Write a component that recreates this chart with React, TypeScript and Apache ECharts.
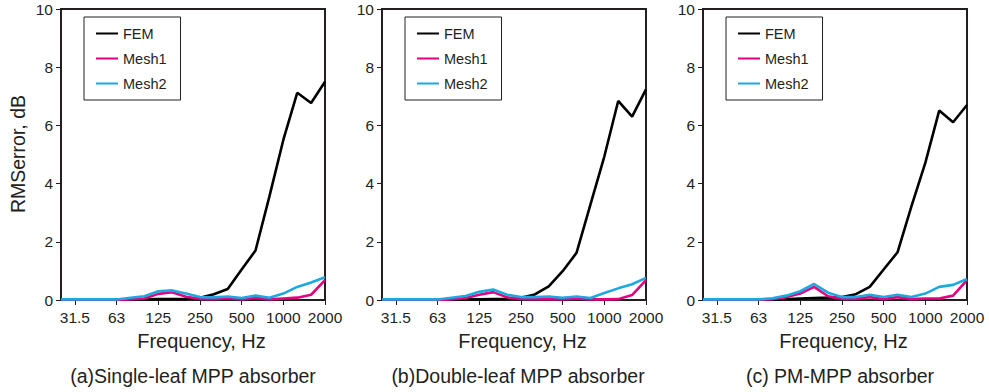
import React, { useEffect, useRef } from "react";
import * as echarts from "echarts";

const freqs = ["25", "31.5", "40", "50", "63", "80", "100", "125", "160", "200", "250", "315", "400", "500", "630", "800", "1000", "1250", "1600", "2000"];
const tickLabels = ["31.5", "63", "125", "250", "500", "1000", "2000"];
const yTicks = [0, 2, 4, 6, 8, 10];

const femA = [0.02, 0.02, 0.02, 0.02, 0.02, 0.02, 0.02, 0.03, 0.03, 0.04, 0.08, 0.2, 0.38, 1.05, 1.7, 3.56, 5.5, 7.12, 6.77, 7.5];
const mesh1A = [0, 0, 0, 0, 0, 0.02, 0.05, 0.21, 0.27, 0.11, 0.04, 0.03, 0.06, 0.02, 0.08, 0.02, 0.05, 0.08, 0.18, 0.68];
const mesh2A = [0.02, 0.02, 0.02, 0.02, 0.02, 0.08, 0.13, 0.3, 0.33, 0.22, 0.1, 0.09, 0.12, 0.07, 0.15, 0.08, 0.22, 0.45, 0.6, 0.78];

const femB = [0.01, 0.01, 0.01, 0.01, 0.01, 0.01, 0.02, 0.02, 0.03, 0.04, 0.08, 0.19, 0.47, 0.99, 1.62, 3.28, 4.93, 6.84, 6.3, 7.24];
const mesh1B = [0, 0, 0, 0, 0, 0.02, 0.07, 0.18, 0.27, 0.09, 0.04, 0.03, 0.04, 0.02, 0.05, 0.02, 0.02, 0.03, 0.17, 0.68];
const mesh2B = [0.02, 0.02, 0.02, 0.02, 0.02, 0.08, 0.14, 0.28, 0.36, 0.18, 0.1, 0.1, 0.12, 0.08, 0.12, 0.07, 0.24, 0.4, 0.54, 0.76];

const femC = [0.01, 0.01, 0.01, 0.01, 0.01, 0.02, 0.03, 0.05, 0.07, 0.08, 0.1, 0.2, 0.45, 1.05, 1.64, 3.22, 4.71, 6.51, 6.11, 6.7];
const mesh1C = [0, 0, 0, 0, 0, 0.03, 0.1, 0.22, 0.45, 0.13, 0.04, 0.04, 0.1, 0.03, 0.1, 0.03, 0.05, 0.05, 0.15, 0.68];
const mesh2C = [0.02, 0.02, 0.02, 0.02, 0.02, 0.06, 0.15, 0.3, 0.55, 0.25, 0.1, 0.1, 0.18, 0.1, 0.18, 0.1, 0.22, 0.45, 0.52, 0.72];

const panelTitles = ["(a)Single-leaf MPP absorber", "(b)Double-leaf MPP absorber", "(c) PM-MPP absorber"];
const seriesNames = ["FEM", "Mesh1", "Mesh2"];
const panels = [
  [femA, mesh1A, mesh2A],
  [femB, mesh1B, mesh2B],
  [femC, mesh1C, mesh2C],
];

const colors = ["#000000", "#e4007f", "#1ea8e0"];
const textColor = "#231f20";
const font = "'Liberation Sans', Arial, sans-serif";

const gridLefts = [61, 382, 703];
const gridWidth = 264;
const gridTop = 9;
const gridHeight = 291;
const titleShift = [0, 4, 5];

// thin horizontal line icon with a 22x14 bounding box
const lineIcon = "path://M0,0L0.01,0L0.01,0.01ZM0,14L0.01,14L0.01,13.99ZM0,6L22,6L22,8L0,8Z";

export default function App() {
  const ref = useRef<HTMLDivElement>(null);
  useEffect(() => {
    if (!ref.current) return;
    const chart = echarts.init(ref.current, undefined, { renderer: "svg" });
    const showIdx = (i: number) => tickLabels.indexOf(freqs[i]) >= 0;

    const grid = gridLefts.map((l) => ({
      left: l,
      top: gridTop,
      width: gridWidth,
      height: gridHeight,
      show: true,
      borderColor: textColor,
      borderWidth: 2,
      backgroundColor: "transparent",
    }));

    const xAxis = gridLefts.map((_, g) => ({
      type: "category",
      gridIndex: g,
      data: freqs,
      boundaryGap: false,
      axisLine: { show: true, lineStyle: { color: textColor, width: 2 } },
      axisTick: {
        show: true,
        interval: (i: number) => showIdx(i),
        length: 5,
        lineStyle: { color: textColor, width: 1 },
      },
      axisLabel: {
        interval: (i: number) => showIdx(i),
        color: textColor,
        fontSize: 15.5,
        fontFamily: font,
        margin: 9,
      },
      splitLine: { show: false },
    }));

    const yAxis = gridLefts.map((_, g) => ({
      type: "value",
      gridIndex: g,
      min: 0,
      max: 10,
      interval: 2,
      axisLine: { show: true, lineStyle: { color: textColor, width: 2 } },
      axisTick: { show: true, length: 5, lineStyle: { color: textColor, width: 1 } },
      axisLabel: {
        color: textColor,
        fontSize: 15.5,
        fontFamily: font,
        margin: 8,
        formatter: (v: number) => (yTicks.indexOf(v) >= 0 ? String(v) : ""),
      },
      splitLine: { show: false },
    }));

    const series: any[] = [];
    panels.forEach((data, g) => {
      data.forEach((vals, s) => {
        series.push({
          type: "line",
          name: seriesNames[s],
          xAxisIndex: g,
          yAxisIndex: g,
          data: vals,
          symbol: "none",
          lineStyle: { color: colors[s], width: 2.6 },
          itemStyle: { color: colors[s] },
          z: 2 + s,
        });
      });
    });

    const legend = gridLefts.map((l) => ({
      left: l + 23,
      top: 17,
      orient: "vertical",
      data: seriesNames.map((n) => ({ name: n, icon: lineIcon })),
      itemWidth: 22,
      itemHeight: 14,
      itemGap: 10,
      padding: [9, 14, 9, 12],
      borderColor: textColor,
      borderWidth: 1,
      selectedMode: false,
      textStyle: { color: textColor, fontSize: 14.5, fontFamily: font },
    }));

    const graphic: any[] = [];
    gridLefts.forEach((l, g) => {
      graphic.push({
        type: "text",
        x: l + gridWidth / 2 + 8.5,
        y: 341,
        style: {
          text: "Frequency, Hz",
          fill: textColor,
          font: `20px ${font}`,
          textAlign: "center",
          textVerticalAlign: "middle",
        },
      });
      graphic.push({
        type: "text",
        x: l + gridWidth / 2 + titleShift[g],
        y: 376,
        style: {
          text: panelTitles[g],
          fill: textColor,
          font: `19.5px ${font}`,
          textAlign: "center",
          textVerticalAlign: "middle",
        },
      });
    });
    graphic.push({
      type: "text",
      x: 17.5,
      y: 154,
      rotation: Math.PI / 2,
      style: {
        text: "RMSerror, dB",
        fill: textColor,
        font: `19.5px ${font}`,
        textAlign: "center",
        textVerticalAlign: "middle",
      },
    });

    chart.setOption({
      animation: false,
      backgroundColor: "#ffffff",
      grid,
      xAxis,
      yAxis,
      series,
      legend,
      graphic,
    } as any);
    return () => chart.dispose();
  }, []);

  return (
    <div
      ref={ref}
      style={{ position: "fixed", left: 0, top: 0, width: 989, height: 392 }}
    />
  );
}
